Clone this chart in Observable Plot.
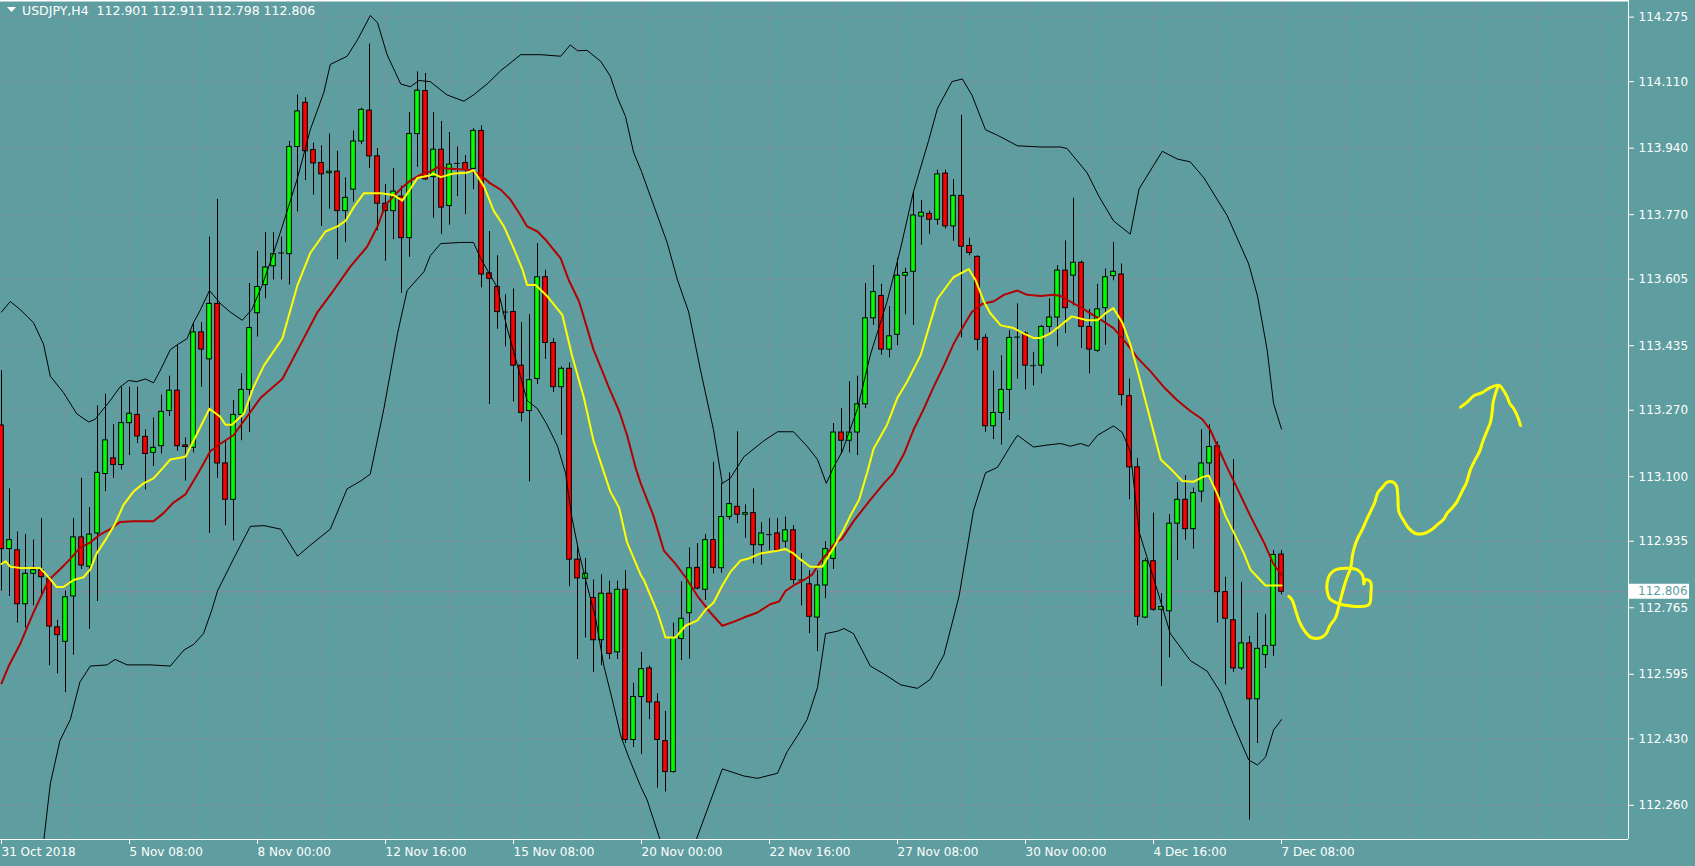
<!DOCTYPE html>
<html>
<head>
<meta charset="utf-8">
<script src="https://cdn.jsdelivr.net/npm/d3@7"></script>
<script src="https://cdn.jsdelivr.net/npm/@observablehq/plot@0.6"></script>
<style>
  html, body { margin: 0; padding: 0; background: #5f9ea0; }
  #chart { width: 1695px; height: 866px; overflow: hidden; }
</style>
</head>
<body>
<div id="chart"></div>
<script>
// ---------------- DATA (USDJPY, H4) ----------------
const symbolLabel = "USDJPY,H4";

const opens = [113.231,112.915,112.912,112.774,112.852,112.861,112.839,112.715,112.678,112.794,
112.945,112.870,112.955,113.107,113.147,113.130,113.237,113.258,113.202,113.161,
113.178,113.268,113.320,113.180,113.174,113.469,113.400,113.542,113.134,113.041,
113.258,113.322,113.518,113.590,113.638,113.672,113.669,113.943,114.056,113.935,
113.902,113.876,113.880,113.779,113.834,113.957,114.036,113.919,113.798,113.779,
113.816,113.710,113.976,114.086,113.866,113.936,113.792,113.901,113.902,113.887,
113.984,113.620,113.585,113.521,113.521,113.384,113.268,113.350,113.610,113.442,
113.329,113.376,112.888,112.839,112.790,112.682,112.801,112.651,112.811,112.427,
112.537,112.610,112.523,112.424,112.345,112.685,112.751,112.867,112.811,112.938,
112.866,112.997,113.023,113.003,113.007,112.925,112.952,112.955,112.934,112.963,
112.836,112.825,112.740,112.822,112.890,113.213,113.192,113.213,113.285,113.505,
113.562,113.425,113.463,113.614,113.624,113.765,113.772,113.757,113.875,113.740,
113.818,113.690,113.662,113.455,113.229,113.263,113.322,113.457,113.466,113.384,
113.384,113.483,113.507,113.627,113.614,113.647,113.483,113.422,113.531,113.613,
113.617,113.306,113.124,112.740,112.884,112.760,112.756,112.980,113.041,112.966,
113.062,113.134,113.178,112.805,112.733,112.610,112.674,112.531,112.644,112.668,
112.901];
const highs = [113.371,113.069,112.959,112.952,112.938,112.993,112.845,112.733,112.808,112.993,
113.096,113.021,113.281,113.311,113.233,113.329,113.329,113.329,113.220,113.250,
113.309,113.357,113.435,113.199,113.494,113.494,113.713,113.809,113.192,113.295,
113.363,113.594,113.676,113.724,113.724,113.713,113.957,114.076,114.069,113.953,
113.946,113.976,113.932,113.864,113.984,114.042,114.206,113.939,113.847,113.888,
113.843,114.031,114.135,114.131,114.031,114.008,113.980,113.943,113.921,113.990,
113.997,113.727,113.665,113.565,113.580,113.494,113.514,113.696,113.628,113.453,
113.381,113.391,112.925,112.891,112.836,112.849,112.833,112.833,112.860,112.572,
112.651,112.616,112.545,112.500,112.726,112.831,112.918,112.929,112.952,113.137,
113.083,113.110,113.215,113.028,113.069,112.982,112.993,112.993,112.997,112.975,
112.904,112.860,112.860,112.934,113.236,113.274,113.343,113.357,113.594,113.640,
113.592,113.535,113.658,113.633,113.829,113.806,113.779,113.884,113.884,113.860,
114.024,113.710,113.665,113.463,113.370,113.409,113.473,113.542,113.470,113.418,
113.487,113.555,113.640,113.703,113.812,113.651,113.528,113.592,113.631,113.699,
113.644,113.350,113.147,112.891,113.007,112.801,113.003,113.085,113.103,113.071,
113.220,113.233,113.189,112.843,113.144,112.829,112.692,112.751,112.747,112.911,
112.911];
const lows = [112.808,112.794,112.726,112.713,112.770,112.794,112.617,112.596,112.548,112.644,
112.863,112.710,112.781,113.062,113.096,113.117,113.154,113.185,113.066,113.126,
113.158,113.254,113.165,113.089,113.161,113.329,112.955,113.096,112.975,112.936,
113.192,113.213,113.457,113.555,113.603,113.603,113.590,113.777,113.857,113.820,
113.740,113.784,113.655,113.699,113.802,113.949,113.888,113.729,113.651,113.706,
113.569,113.661,113.891,113.857,113.761,113.720,113.743,113.816,113.770,113.834,
113.583,113.285,113.477,113.432,113.291,113.240,113.087,113.336,113.400,113.315,
113.206,112.819,112.633,112.688,112.600,112.617,112.633,112.633,112.418,112.408,
112.390,112.479,112.304,112.294,112.342,112.630,112.634,112.811,112.784,112.852,
112.853,112.989,112.980,112.943,112.877,112.874,112.911,112.907,112.918,112.825,
112.770,112.699,112.653,112.788,112.863,113.158,113.161,113.154,113.274,113.487,
113.411,113.404,113.435,113.514,113.487,113.692,113.720,113.743,113.733,113.702,
113.455,113.665,113.422,113.213,113.195,113.181,113.244,113.350,113.322,113.332,
113.363,113.469,113.432,113.466,113.537,113.428,113.363,113.418,113.436,113.601,
113.281,113.041,112.719,112.737,112.756,112.564,112.637,112.886,112.938,112.915,
113.035,113.103,112.726,112.568,112.600,112.605,112.222,112.418,112.610,112.641,
112.798];
const closes = [112.915,112.938,112.774,112.852,112.861,112.843,112.717,112.695,112.792,112.945,
112.873,112.952,113.110,113.193,113.130,113.237,113.261,113.203,113.158,113.174,
113.266,113.320,113.178,113.176,113.469,113.425,113.542,113.134,113.041,113.258,
113.322,113.480,113.585,113.635,113.669,113.672,113.943,114.034,113.932,113.901,
113.873,113.880,113.779,113.813,113.957,114.038,113.919,113.798,113.779,113.829,
113.710,113.976,114.087,113.860,113.936,113.788,113.898,113.901,113.884,113.984,
113.617,113.606,113.521,113.521,113.384,113.263,113.347,113.610,113.442,113.329,
113.376,112.888,112.840,112.852,112.682,112.801,112.647,112.811,112.427,112.537,
112.608,112.523,112.427,112.345,112.688,112.737,112.866,112.814,112.938,112.867,
112.997,113.030,113.003,113.007,112.925,112.955,112.952,112.911,112.963,112.836,
112.836,112.742,112.822,112.915,113.213,113.192,113.213,113.285,113.505,113.572,
113.425,113.459,113.614,113.621,113.768,113.775,113.757,113.873,113.740,113.818,
113.688,113.672,113.450,113.229,113.263,113.322,113.455,113.457,113.384,113.384,
113.483,113.507,113.627,113.531,113.647,113.483,113.425,113.528,113.610,113.624,
113.309,113.124,112.742,112.884,112.760,112.767,112.980,113.041,112.966,113.058,
113.134,113.176,112.805,112.737,112.610,112.674,112.531,112.660,112.667,112.900,
112.806];

// Bollinger Bands (upper / lower), [bar, price]
const upperBand = [[0,113.521],[1.1,113.548],[2.3,113.528],[4,113.494],[5.25,113.439],[6.1,113.357],[7.75,113.315],[9.4,113.261],[10.9,113.240],[11.7,113.247],[13.6,113.295],[14.8,113.329],[15.9,113.346],[16.9,113.343],[18,113.350],[19,113.340],[19.8,113.370],[21.1,113.425],[22.1,113.439],[23.2,113.453],[24,113.494],[24.8,113.524],[26,113.576],[27.4,113.542],[28.6,113.521],[30.1,113.500],[31.3,113.528],[32.6,113.590],[34,113.672],[35.1,113.740],[37,113.864],[38.6,113.987],[40.3,114.083],[41.1,114.154],[43.2,114.175],[44.5,114.217],[46.1,114.279],[47,114.261],[48.2,114.179],[49.9,114.104],[51.1,114.097],[52.2,114.113],[53.6,114.110],[55.7,114.076],[57.8,114.060],[59,114.076],[60.7,114.104],[62.4,114.138],[64.9,114.179],[67.4,114.179],[69.9,114.175],[71.1,114.204],[72,114.189],[73.2,114.190],[74.9,114.162],[76.1,114.124],[77,114.069],[78,114.021],[79,113.930],[80,113.880],[81.5,113.795],[83.2,113.699],[84.5,113.603],[85.9,113.521],[87.4,113.370],[89,113.220],[90.1,113.083],[91.1,113.096],[92.8,113.151],[95.3,113.192],[97,113.215],[99,113.215],[100.7,113.178],[102,113.144],[103.1,113.083],[104,113.124],[105.1,113.165],[107,113.274],[108.6,113.411],[110.7,113.548],[112.4,113.685],[114,113.829],[115.9,113.960],[117,114.042],[118.8,114.110],[120.1,114.117],[121.3,114.076],[123,113.987],[124.5,113.973],[127,113.946],[129.9,113.943],[132.4,113.943],[133.2,113.939],[135.7,113.877],[137.2,113.816],[139,113.754],[141.1,113.720],[142.2,113.836],[145.1,113.932],[147,113.912],[148.6,113.905],[150.3,113.864],[153.2,113.768],[155.9,113.644],[157,113.562],[158.2,113.425],[159,113.288],[160,113.222]];
const lowerBand = [[5.0,112.12],[6.1,112.315],[7.3,112.425],[8.6,112.479],[9.8,112.575],[11.1,112.616],[13.2,112.619],[14.2,112.633],[15.7,112.619],[18.6,112.619],[21.1,112.616],[22.8,112.657],[24,112.671],[25.25,112.699],[26.3,112.760],[27,112.808],[29,112.890],[31.1,112.973],[32.8,112.975],[34.9,112.966],[37,112.897],[38.6,112.925],[41.1,112.966],[43.2,113.069],[44.9,113.089],[46.1,113.107],[47.8,113.274],[49.5,113.466],[50.7,113.576],[52.8,113.624],[53.6,113.665],[54.9,113.696],[57.4,113.699],[59,113.699],[59.9,113.658],[62,113.583],[63.2,113.480],[64.5,113.384],[65.7,113.295],[67,113.274],[68.2,113.233],[69.5,113.178],[70.5,113.110],[71.3,112.996],[72.2,112.904],[73.2,112.822],[74.25,112.740],[75.3,112.616],[76.3,112.534],[77.4,112.438],[78.4,112.383],[79.9,112.308],[80.7,112.274],[82.4,112.167],[84.5,112.07],[86.75,112.167],[90.1,112.353],[92.8,112.335],[94.5,112.329],[97,112.342],[98.2,112.397],[99.5,112.438],[100.7,112.479],[102,112.561],[103,112.699],[104.5,112.705],[105.3,112.712],[106.5,112.699],[108.6,112.616],[110.3,112.596],[112.4,112.568],[114.5,112.559],[116.1,112.582],[117.8,112.644],[119.7,112.795],[121.5,113.014],[123,113.110],[124.5,113.124],[126.1,113.178],[127,113.206],[129,113.176],[130.7,113.181],[132.4,113.185],[133.6,113.178],[134.9,113.185],[135.9,113.178],[137,113.206],[139,113.230],[140.1,113.213],[141.1,113.165],[142.2,112.959],[144.5,112.808],[146.1,112.699],[148.6,112.630],[150.7,112.603],[152.4,112.548],[154,112.466],[155.9,112.376],[157,112.363],[158,112.383],[159,112.452],[160,112.479]];

// Fast moving average (yellow), [bar, price]
const fastMA = [[0,112.877],[0.5,112.884],[1.1,112.870],[2.3,112.867],[4.8,112.867],[5.9,112.843],[6.9,112.818],[7.75,112.818],[9,112.836],[10.25,112.843],[11.1,112.863],[11.9,112.904],[13.2,112.945],[14.2,112.980],[15.25,113.028],[16.5,113.062],[17.75,113.083],[19,113.096],[20.25,113.124],[21.1,113.144],[23,113.151],[24,113.192],[25,113.233],[26,113.274],[27.3,113.254],[28,113.233],[28.8,113.233],[30.3,113.261],[31.5,113.329],[32.8,113.384],[35.1,113.453],[37,113.590],[38.6,113.672],[40.5,113.727],[42,113.740],[43,113.754],[44,113.788],[45.3,113.825],[47.4,113.825],[49,113.820],[50.1,113.806],[51.1,113.836],[52,113.864],[53.6,113.871],[54,113.875],[54.9,113.866],[56.5,113.875],[58.2,113.877],[59,113.884],[60.3,113.843],[61.5,113.781],[62.8,113.740],[64,113.685],[65.1,113.631],[65.7,113.590],[66.75,113.590],[68.2,113.562],[70.1,113.514],[71.3,113.411],[72.8,113.302],[74,113.192],[75.1,113.124],[76.1,113.062],[77.2,113.021],[78.2,112.932],[79.9,112.849],[80.3,112.836],[82,112.753],[83,112.689],[84.25,112.689],[85.5,112.719],[87,112.733],[88,112.760],[89,112.778],[90.1,112.822],[91.1,112.856],[92.4,112.886],[93.4,112.891],[94.9,112.904],[97,112.911],[98,112.915],[99,112.904],[99.9,112.888],[101.1,112.870],[102.6,112.870],[103.2,112.891],[104,112.918],[105.3,112.966],[106.1,113.000],[107.2,113.041],[108.2,113.110],[109,113.171],[110.7,113.233],[112,113.302],[113.2,113.343],[114.9,113.411],[116.1,113.494],[117,113.555],[119,113.610],[120.9,113.631],[121.75,113.603],[122.8,113.548],[123.6,113.518],[124.9,113.487],[126.5,113.480],[127.8,113.466],[129,113.455],[129.9,113.455],[131.1,113.466],[132.4,113.487],[132.8,113.494],[133.8,113.510],[135.7,113.500],[137,113.500],[138.2,113.521],[139,113.531],[140.1,113.494],[141.1,113.439],[142.2,113.357],[143.6,113.247],[144.9,113.144],[146.3,113.117],[147.6,113.089],[149,113.087],[150.1,113.099],[150.9,113.103],[152,113.055],[153,113.000],[154,112.959],[155.3,112.904],[156.1,112.863],[158,112.822],[160,112.822]];

// Slow moving average (red), [bar, price]
const slowMA = [[0,112.572],[0.9,112.616],[2.3,112.671],[4,112.753],[5.9,112.836],[7.3,112.863],[8.6,112.890],[9.8,112.918],[11.1,112.932],[12.3,112.952],[13.6,112.966],[14.8,112.984],[16.5,112.986],[19,112.986],[20.25,113.007],[21.5,113.034],[23,113.055],[24,113.089],[25,113.124],[26.1,113.165],[27.4,113.185],[29,113.206],[30.7,113.254],[32.4,113.302],[35.1,113.350],[37.4,113.439],[39.5,113.521],[41.5,113.576],[43.6,113.637],[45.7,113.688],[47,113.740],[48,113.795],[49.9,113.836],[51.1,113.857],[52.8,113.877],[53.6,113.880],[54.5,113.891],[55.7,113.888],[58.6,113.884],[59.9,113.871],[61.1,113.850],[62.4,113.834],[63.6,113.809],[64.9,113.768],[65.7,113.740],[67,113.727],[68,113.706],[69.9,113.658],[70.9,113.603],[72.2,113.548],[73.2,113.480],[74,113.425],[75.1,113.370],[75.9,113.329],[77.2,113.268],[78.2,113.206],[79.25,113.124],[79.9,113.083],[81.5,113.000],[82.8,112.911],[84.25,112.877],[85.5,112.843],[87,112.795],[88.6,112.753],[90.1,112.719],[91.5,112.729],[92.8,112.740],[94.5,112.753],[96.1,112.774],[97.2,112.781],[98,112.808],[99,112.822],[100.3,112.836],[101.3,112.849],[102.2,112.877],[103.2,112.904],[104.25,112.932],[105,112.940],[106.5,112.986],[108.6,113.041],[110.3,113.083],[111.5,113.110],[112.8,113.158],[114,113.220],[115.3,113.274],[116.5,113.329],[117.8,113.384],[119,113.439],[120.3,113.487],[121.3,113.521],[122.6,113.542],[124,113.548],[125.3,113.565],[127,113.576],[128.2,113.565],[129.9,113.562],[131.5,113.565],[132.4,113.562],[133.6,113.548],[135.3,113.528],[137,113.507],[139,113.480],[140.7,113.439],[142,113.404],[143.6,113.370],[145.3,113.329],[147,113.295],[148.6,113.268],[150.1,113.247],[151.1,113.220],[152,113.178],[153.2,113.124],[154.5,113.069],[156.1,113.000],[157.8,112.932],[159,112.877],[160,112.849]];

// Hand-drawn forecast scribble (yellow), [bar, price]
const scribbleMain = [[160.92,112.794],[161.33,112.785],[161.75,112.759],[162.29,112.727],[162.88,112.706],[163.71,112.689],[164.96,112.689],[165.58,112.699],[166.04,112.719],[166.75,112.740],[167.29,112.779],[167.71,112.811],[168.13,112.839],[168.54,112.861],[168.75,112.878],[168.83,112.895],[169.13,112.921],[169.54,112.943],[170.08,112.964],[170.63,112.990],[171.13,113.011],[171.63,113.033],[172.04,113.059],[172.58,113.072],[173.21,113.086],[173.96,113.086],[174.38,113.076],[174.54,113.050],[174.67,113.011],[175.21,112.990],[175.92,112.968],[176.75,112.955],[177.79,112.955],[178.83,112.966],[179.46,112.977],[180.29,112.992],[180.71,113.007],[181.33,113.020],[181.96,113.037],[182.58,113.063],[183.13,113.085],[183.63,113.119],[184.25,113.145],[184.79,113.166],[185.13,113.188],[185.79,113.222],[186.13,113.240],[186.33,113.265],[186.46,113.291],[186.75,113.313],[187.04,113.330]];
const scribbleArrow = [[182.38,113.278],[183.21,113.291],[184.04,113.307],[185.08,113.315],[185.92,113.326],[187.17,113.334],[187.58,113.326],[188.21,113.304],[188.54,113.287],[189.04,113.274],[189.54,113.252],[189.88,113.231]];
const scribbleLoop = [[170.29,112.826],[170.54,112.837],[171.13,112.831],[171.17,112.800],[170.92,112.773],[167.58,112.773],[166.75,112.779],[166.04,112.788],[165.71,112.807],[165.71,112.830],[166.04,112.850],[166.88,112.863],[169.38,112.863],[170.08,112.850],[170.29,112.826]];

// Axes
const priceTicks = [114.275,114.110,113.940,113.770,113.605,113.435,113.270,113.100,112.935,112.765,112.595,112.430,112.260];
const timeTickBars = [0,16,32,48,64,80,96,112,128,144,160];
const timeTickLabels = ["31 Oct 2018","5 Nov 08:00","8 Nov 00:00","12 Nov 16:00","15 Nov 08:00","20 Nov 00:00","22 Nov 16:00","27 Nov 08:00","30 Nov 00:00","4 Dec 16:00","7 Dec 08:00"];
const gridBars = [8,16,24,32,40,48,56,64,72,80,88,96,104,112,120,128,136,144,152,160,168,176,184,192,200];
const lastPrice = 112.806;
const xDomain = [-0.125, 203.375];
const yDomain = [112.1726, 114.3175];

// ---------------- BUILD ----------------
const candles = opens.map((o, i) => ({i, o, h: highs[i], l: lows[i], c: closes[i]}));
const bodies = candles.filter(d => d.o !== d.c);
const dojis = candles.filter(d => d.o === d.c);
const BW = 0.29;
const GRID = "#8c8ea0";
const FONT = "DejaVu Sans, Verdana, sans-serif";

const chart = Plot.plot({
  width: 1695,
  height: 866,
  marginLeft: 0,
  marginRight: 67,
  marginTop: 0,
  marginBottom: 27,
  x: {type: "linear", domain: xDomain},
  y: {type: "linear", domain: yDomain},
  style: {background: "#5f9ea0", color: "white", fontFamily: FONT, fontSize: "12px", overflow: "visible"},
  marks: [
    Plot.ruleY(priceTicks, {stroke: GRID, strokeDasharray: "3,3", strokeWidth: 1}),
    Plot.ruleX(gridBars, {stroke: GRID, strokeDasharray: "3,3", strokeWidth: 1}),
    Plot.ruleY([lastPrice], {stroke: "#8a8aa0", strokeWidth: 1}),
    Plot.ruleX(candles, {x: "i", y1: "l", y2: "h", stroke: "black", strokeWidth: 1, clip: true}),
    Plot.rect(bodies, {
      x1: d => d.i - BW, x2: d => d.i + BW,
      y1: "o", y2: "c",
      fill: d => d.c > d.o ? "#00ff00" : "#ff0000",
      stroke: "black", strokeWidth: 1, clip: true
    }),
    Plot.ruleY(dojis, {y: "o", x1: d => d.i - BW - 0.06, x2: d => d.i + BW + 0.06, stroke: "black", strokeWidth: 1}),
    Plot.line(upperBand, {x: d => d[0], y: d => d[1], stroke: "black", strokeWidth: 1, clip: true}),
    Plot.line(lowerBand, {x: d => d[0], y: d => d[1], stroke: "black", strokeWidth: 1, clip: true}),
    Plot.line(slowMA, {x: d => d[0], y: d => d[1], stroke: "#b30000", strokeWidth: 2, clip: true}),
    Plot.line(fastMA, {x: d => d[0], y: d => d[1], stroke: "#ffff00", strokeWidth: 2, clip: true}),
    Plot.line(scribbleMain, {x: d => d[0], y: d => d[1], stroke: "#ffff00", strokeWidth: 3, curve: "catmull-rom", strokeLinecap: "round", strokeLinejoin: "round"}),
    Plot.line(scribbleArrow, {x: d => d[0], y: d => d[1], stroke: "#ffff00", strokeWidth: 3, curve: "catmull-rom", strokeLinecap: "round", strokeLinejoin: "round"}),
    Plot.line(scribbleLoop, {x: d => d[0], y: d => d[1], stroke: "#ffff00", strokeWidth: 3, curve: "catmull-rom", strokeLinecap: "round", strokeLinejoin: "round"}),
    Plot.axisY(priceTicks, {anchor: "right", tickSize: 5, tickPadding: 5, tickFormat: d => d.toFixed(3), stroke: "white", fill: "white", fontSize: 12, label: null}),
    Plot.axisX(timeTickBars, {anchor: "bottom", tickSize: 5, tickPadding: 3, tickFormat: d => timeTickLabels[timeTickBars.indexOf(d)], textAnchor: "start", stroke: "white", fill: "white", fontSize: 12, label: null}),
    Plot.ruleY([yDomain[0]], {stroke: "white", strokeWidth: 1}),
    Plot.ruleY([yDomain[1]], {stroke: "white", strokeWidth: 2}),
    Plot.ruleX([xDomain[1]], {stroke: "white", strokeWidth: 1})
  ]
});
document.getElementById("chart").appendChild(chart);

// Overlays positioned from the chart's own scales
const sx = chart.scale("x"), sy = chart.scale("y");
const svg = d3.select(chart);
const xRight = sx.apply(xDomain[1]);
const yLast = sy.apply(lastPrice);
const g = svg.append("g").attr("text-anchor", "start");
g.append("rect").attr("x", xRight + 1).attr("y", yLast - 7.5).attr("width", 60).attr("height", 15).attr("fill", "white");
g.append("text").attr("x", xRight + 10).attr("y", yLast).attr("dy", "0.35em").attr("text-anchor", "start")
  .attr("fill", "#5f9ea0").attr("font-family", FONT).attr("font-size", 12).text(lastPrice.toFixed(3));

// header: symbol and last bar OHLC
const n = opens.length - 1;
const header = `${symbolLabel}  ${[opens[n], highs[n], lows[n], closes[n]].map(v => v.toFixed(3)).join(" ")}`;
g.append("path").attr("d", "M7,7 L16,7 L11.5,12 Z").attr("fill", "white");
g.append("text").attr("x", 22).attr("y", 15).attr("text-anchor", "start").attr("fill", "white").attr("font-family", FONT)
  .attr("font-size", 12.5).attr("xml:space", "preserve").style("white-space", "pre").text(header);
</script>
</body>
</html>
